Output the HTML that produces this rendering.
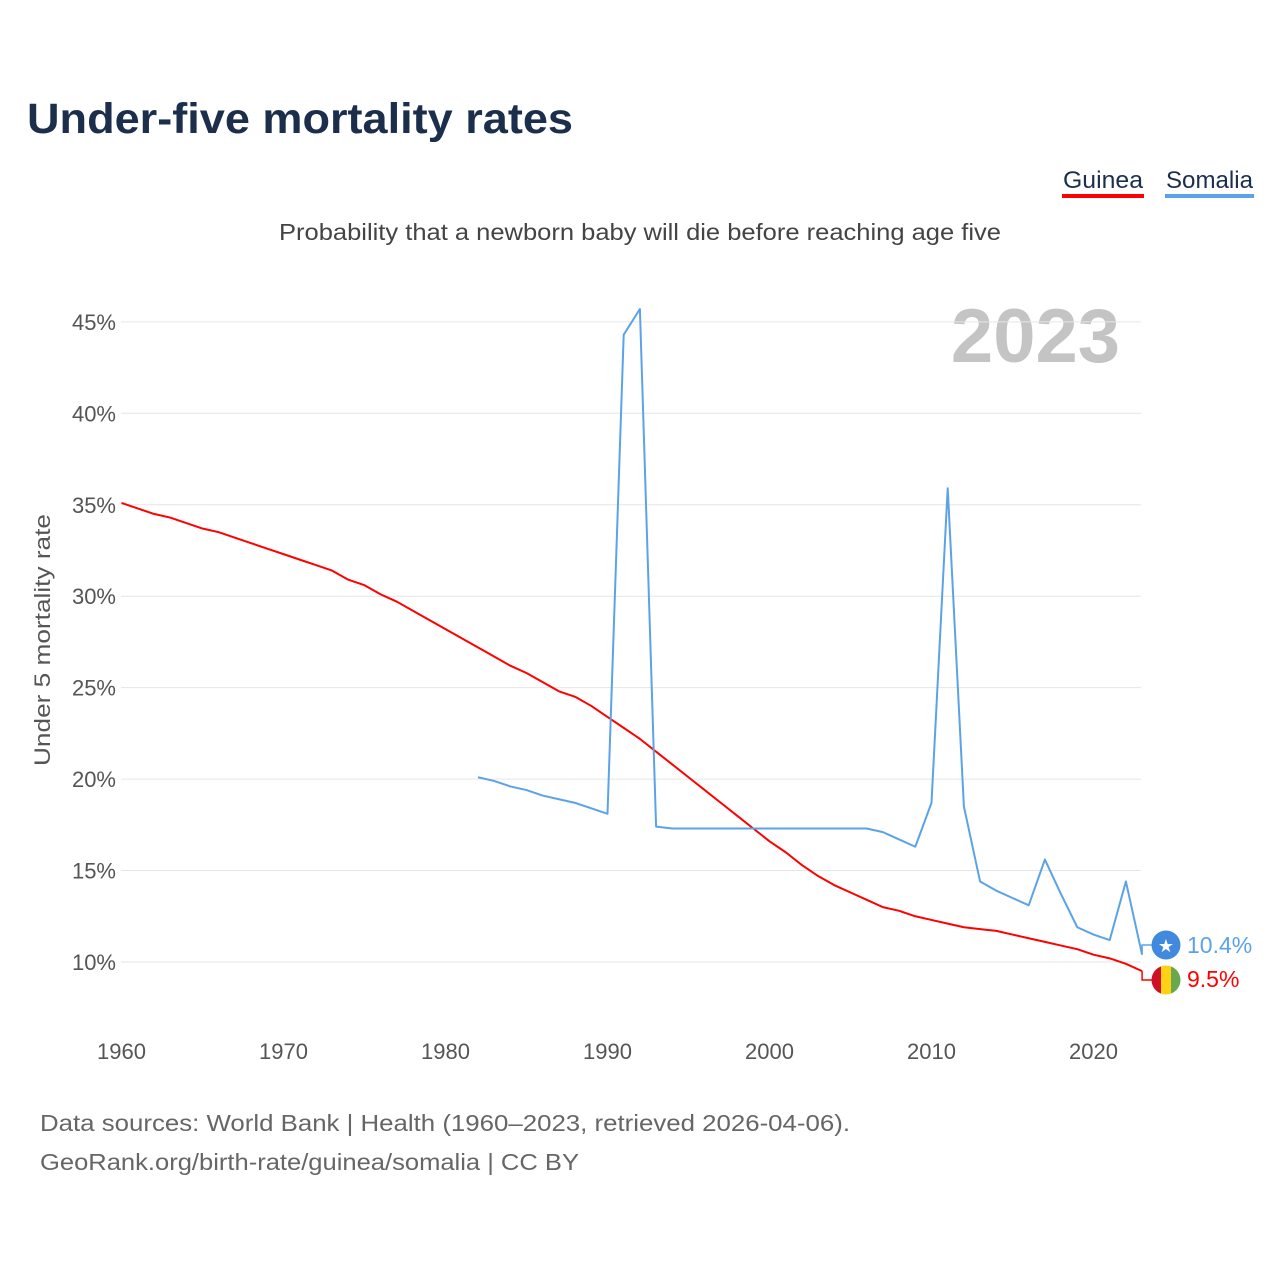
<!DOCTYPE html>
<html><head><meta charset="utf-8"><style>
body{margin:0;background:#fff;width:1280px;height:1280px;overflow:hidden;font-family:"Liberation Sans",sans-serif}
</style></head><body>
<svg width="1280" height="1280" xmlns="http://www.w3.org/2000/svg" font-family="Liberation Sans, sans-serif">
<text x="27" y="133" font-size="43" font-weight="bold" fill="#1b2f4d" textLength="546" lengthAdjust="spacingAndGlyphs">Under-five mortality rates</text>
<g><text x="1063" y="188" font-size="24" fill="#1b2f4d" textLength="80" lengthAdjust="spacingAndGlyphs">Guinea</text><rect x="1062" y="194" width="82" height="4" fill="#ff0000"/></g>
<g><text x="1166" y="188" font-size="24" fill="#1b2f4d" textLength="87" lengthAdjust="spacingAndGlyphs">Somalia</text><rect x="1165" y="194" width="89" height="4" fill="#5ba3e8"/></g>
<text x="279" y="240" font-size="23" fill="#444" textLength="722" lengthAdjust="spacingAndGlyphs">Probability that a newborn baby will die before reaching age five</text>
<text x="1120" y="362" font-size="76" font-weight="bold" text-anchor="end" fill="#c4c4c4">2023</text>
<text transform="translate(50,640) rotate(-90)" font-size="22" text-anchor="middle" fill="#555" textLength="252" lengthAdjust="spacingAndGlyphs">Under 5 mortality rate</text>
<g id="grid"></g><g id="lines"></g><g id="ends"></g>
<text x="40" y="1131" font-size="23" fill="#666" textLength="810" lengthAdjust="spacingAndGlyphs">Data sources: World Bank | Health (1960–2023, retrieved 2026-04-06).</text>
<text x="40" y="1170" font-size="23" fill="#666" textLength="539" lengthAdjust="spacingAndGlyphs">GeoRank.org/birth-rate/guinea/somalia | CC BY</text>
</svg>
<script>
const yTicks=[10,15,20,25,30,35,40,45];
const xTicks=[1960,1970,1980,1990,2000,2010,2020];
const guineaYears=[1960,1961,1962,1963,1964,1965,1966,1967,1968,1969,1970,1971,1972,1973,1974,1975,1976,1977,1978,1979,1980,1981,1982,1983,1984,1985,1986,1987,1988,1989,1990,1991,1992,1993,1994,1995,1996,1997,1998,1999,2000,2001,2002,2003,2004,2005,2006,2007,2008,2009,2010,2011,2012,2013,2014,2015,2016,2017,2018,2019,2020,2021,2022,2023];
const guineaValues=[35.1,34.8,34.5,34.3,34.0,33.7,33.5,33.2,32.9,32.6,32.3,32.0,31.7,31.4,30.9,30.6,30.1,29.7,29.2,28.7,28.2,27.7,27.2,26.7,26.2,25.8,25.3,24.8,24.5,24.0,23.4,22.8,22.2,21.5,20.8,20.1,19.4,18.7,18.0,17.3,16.6,16.0,15.3,14.7,14.2,13.8,13.4,13.0,12.8,12.5,12.3,12.1,11.9,11.8,11.7,11.5,11.3,11.1,10.9,10.7,10.4,10.2,9.9,9.5];
const somaliaYears=[1982,1983,1984,1985,1986,1987,1988,1989,1990,1991,1992,1993,1994,1995,1996,1997,1998,1999,2000,2001,2002,2003,2004,2005,2006,2007,2008,2009,2010,2011,2012,2013,2014,2015,2016,2017,2018,2019,2020,2021,2022,2023];
const somaliaValues=[20.1,19.9,19.6,19.4,19.1,18.9,18.7,18.4,18.1,44.3,45.7,17.4,17.3,17.3,17.3,17.3,17.3,17.3,17.3,17.3,17.3,17.3,17.3,17.3,17.3,17.1,16.7,16.3,18.7,35.9,18.5,14.4,13.9,13.5,13.1,15.6,13.7,11.9,11.5,11.2,14.4,10.4];
const NS='http://www.w3.org/2000/svg';
const x=y=>121.5+(y-1960)*16.2;
const yv=v=>962-(v-10)*18.29;
function mk(t,a,p){const e=document.createElementNS(NS,t);for(const k in a)e.setAttribute(k,a[k]);p.appendChild(e);return e;}
const grid=document.getElementById('grid');
yTicks.forEach(v=>{
 const l=mk('line',{x1:121,x2:1141,y1:yv(v),y2:yv(v),stroke:'#e6e6e6','stroke-width':1},grid);
 
 
 const t=mk('text',{x:116,y:yv(v)+8,'font-size':22,'text-anchor':'end',fill:'#555'},grid);t.textContent=v+'%';
 
 
});
xTicks.forEach(yr=>{
 const t=mk('text',{x:x(yr),y:1059,'font-size':22,'text-anchor':'middle',fill:'#555'},grid);t.textContent=yr;
 
 
});
const lines=document.getElementById('lines');
function line(ys,vs,c,n){const p=mk('polyline',{points:ys.map((y,i)=>x(y)+','+yv(vs[i])).join(' '),fill:'none',stroke:c,'stroke-width':2,'stroke-linejoin':'round'},lines);
 
 }
line(guineaYears,guineaValues,'#ff0000','guinea-line');
line(somaliaYears,somaliaValues,'#5ba3e8','somalia-line');
const ends=document.getElementById('ends');
const gl=guineaValues[guineaValues.length-1], sl=somaliaValues[somaliaValues.length-1];
const ex=x(2023);
ends.innerHTML=`
<g>
<polyline points="${ex},${yv(sl)} ${ex},945 1152,945" fill="none" stroke="#5ba3e8" stroke-width="1.5"/>
<circle cx="1166" cy="945" r="14.5" fill="#4189dd"/>
<text x="1166" y="952" font-size="18" text-anchor="middle" fill="#fff">★</text>
<text x="1187" y="953" font-size="23" fill="#5ba3e8">${sl.toFixed(1)}%</text></g>
<g>
<polyline points="${ex},${yv(gl)} ${ex},980 1152,980" fill="none" stroke="#ff0000" stroke-width="1.5"/>
<clipPath id="fc"><circle cx="1166" cy="980" r="14.5"/></clipPath>
<g clip-path="url(#fc)"><rect x="1151" y="965" width="10" height="30" fill="#ce1126"/><rect x="1161" y="965" width="10" height="30" fill="#fcd116"/><rect x="1171" y="965" width="11" height="30" fill="#6aa84f"/></g>
<text x="1187" y="987" font-size="23" fill="#ff0000">${gl.toFixed(1)}%</text></g>`;
</script>
</body></html>
